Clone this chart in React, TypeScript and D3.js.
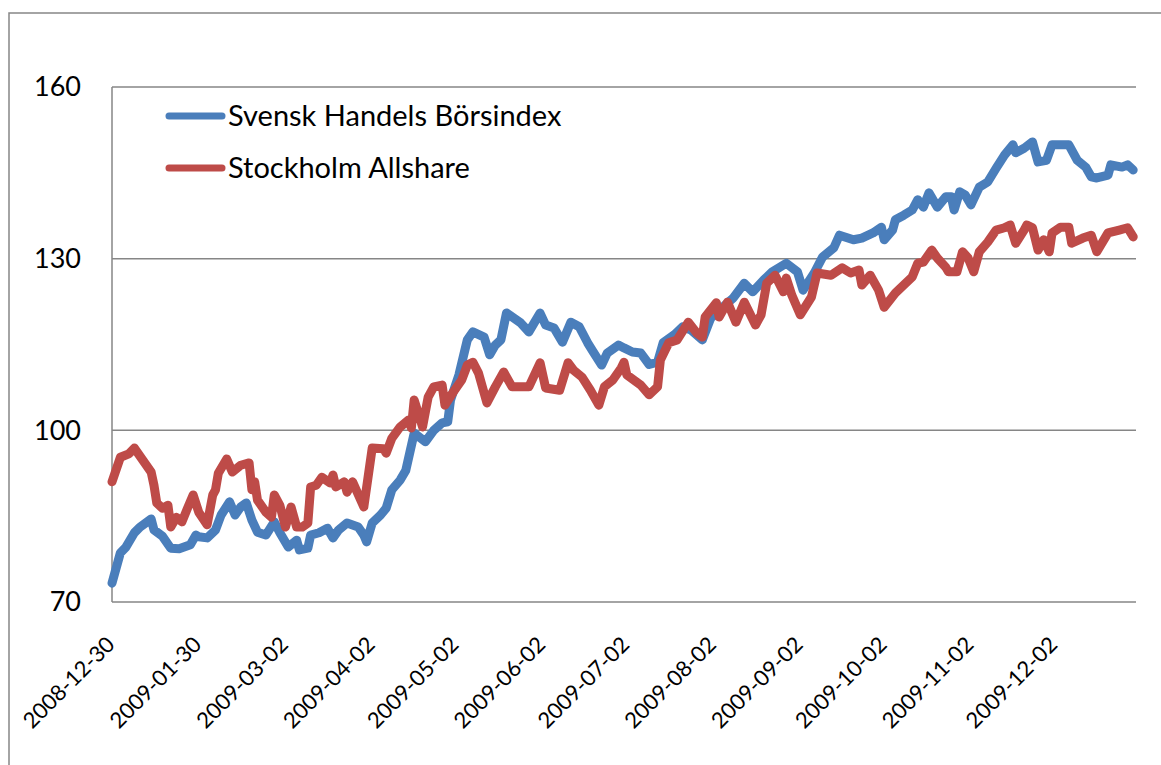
import * as d3 from "d3";

// axis values
const yTicks = [70, 100, 130, 160];
const xTickLabels = [
  "2008-12-30", "2009-01-30", "2009-03-02", "2009-04-02", "2009-05-02", "2009-06-02",
  "2009-07-02", "2009-08-02", "2009-09-02", "2009-10-02", "2009-11-02", "2009-12-02",
];
const xDomain = ["2008-12-30", "2009-12-31"];

const seriesNames = ["Svensk Handels Börsindex", "Stockholm Allshare"];
const seriesColors = ["#4A7EBB", "#BE4B48"];

// Svensk Handels Börsindex
const handelsIndex: [string, number][] = [
  ["2008-12-30", 73.3], ["2009-01-02", 78.6], ["2009-01-04", 79.6], ["2009-01-07", 82.1],
  ["2009-01-09", 83.1], ["2009-01-13", 84.5], ["2009-01-14", 82.6], ["2009-01-17", 81.5],
  ["2009-01-20", 79.4], ["2009-01-23", 79.3], ["2009-01-27", 80.0], ["2009-01-29", 81.7],
  ["2009-01-30", 81.4], ["2009-02-02", 81.2], ["2009-02-05", 82.6], ["2009-02-07", 85.2],
  ["2009-02-10", 87.5], ["2009-02-12", 85.2], ["2009-02-14", 86.6], ["2009-02-16", 87.3],
  ["2009-02-18", 84.3], ["2009-02-20", 82.2], ["2009-02-23", 81.7], ["2009-02-26", 84.0],
  ["2009-02-28", 82.1], ["2009-03-03", 79.6], ["2009-03-06", 80.8], ["2009-03-07", 79.1],
  ["2009-03-10", 79.4], ["2009-03-11", 81.7], ["2009-03-14", 82.1], ["2009-03-17", 82.9],
  ["2009-03-19", 81.2], ["2009-03-21", 82.6], ["2009-03-24", 83.8], ["2009-03-28", 83.1],
  ["2009-03-30", 81.7], ["2009-03-31", 80.5], ["2009-04-02", 83.8], ["2009-04-05", 85.2],
  ["2009-04-07", 86.4], ["2009-04-09", 89.6], ["2009-04-12", 91.3], ["2009-04-14", 93.0],
  ["2009-04-17", 99.5], ["2009-04-21", 98.0], ["2009-04-24", 100.0], ["2009-04-27", 101.3],
  ["2009-04-29", 101.5], ["2009-04-30", 105.3], ["2009-05-03", 109.7], ["2009-05-06", 115.8],
  ["2009-05-08", 117.2], ["2009-05-12", 116.3], ["2009-05-14", 113.2], ["2009-05-16", 114.9],
  ["2009-05-18", 115.8], ["2009-05-20", 120.5], ["2009-05-25", 118.8], ["2009-05-28", 117.2],
  ["2009-06-01", 120.5], ["2009-06-03", 118.4], ["2009-06-06", 117.9], ["2009-06-09", 115.4],
  ["2009-06-12", 118.9], ["2009-06-15", 118.1], ["2009-06-18", 115.3], ["2009-06-20", 113.7],
  ["2009-06-23", 111.4], ["2009-06-25", 113.5], ["2009-06-29", 114.9], ["2009-07-01", 114.4],
  ["2009-07-04", 113.7], ["2009-07-07", 113.5], ["2009-07-10", 111.5], ["2009-07-13", 111.9],
  ["2009-07-15", 115.3], ["2009-07-19", 116.7], ["2009-07-22", 118.1], ["2009-07-25", 117.5],
  ["2009-07-29", 115.8], ["2009-08-01", 119.6], ["2009-08-05", 121.4], ["2009-08-09", 123.1],
  ["2009-08-13", 125.7], ["2009-08-16", 124.2], ["2009-08-20", 126.3], ["2009-08-23", 127.7],
  ["2009-08-28", 129.2], ["2009-09-01", 127.7], ["2009-09-03", 124.5], ["2009-09-07", 127.5],
  ["2009-09-10", 130.3], ["2009-09-14", 131.9], ["2009-09-16", 134.1], ["2009-09-21", 133.3],
  ["2009-09-24", 133.6], ["2009-09-28", 134.5], ["2009-10-01", 135.5], ["2009-10-02", 133.3],
  ["2009-10-05", 135.0], ["2009-10-06", 136.8], ["2009-10-09", 137.6], ["2009-10-12", 138.5],
  ["2009-10-14", 140.3], ["2009-10-16", 139.0], ["2009-10-18", 141.5], ["2009-10-21", 139.0],
  ["2009-10-24", 140.8], ["2009-10-26", 140.8], ["2009-10-27", 138.5], ["2009-10-29", 141.7],
  ["2009-10-31", 141.1], ["2009-11-02", 139.4], ["2009-11-05", 142.5], ["2009-11-08", 143.4],
  ["2009-11-11", 145.8], ["2009-11-14", 148.1], ["2009-11-17", 149.9], ["2009-11-18", 148.5],
  ["2009-11-21", 149.3], ["2009-11-24", 150.4], ["2009-11-26", 146.9], ["2009-11-29", 147.2],
  ["2009-12-01", 149.9], ["2009-12-05", 149.9], ["2009-12-07", 149.9], ["2009-12-10", 147.2],
  ["2009-12-13", 146.0], ["2009-12-15", 144.3], ["2009-12-17", 144.1], ["2009-12-21", 144.6],
  ["2009-12-22", 146.4], ["2009-12-26", 146.0], ["2009-12-28", 146.4], ["2009-12-30", 145.5],
];

// Stockholm Allshare
const allshare: [string, number][] = [
  ["2008-12-30", 91.0], ["2009-01-02", 95.3], ["2009-01-05", 95.9], ["2009-01-07", 96.9],
  ["2009-01-10", 94.8], ["2009-01-13", 92.7], ["2009-01-14", 90.4], ["2009-01-15", 87.3],
  ["2009-01-17", 86.4], ["2009-01-19", 86.9], ["2009-01-20", 83.1], ["2009-01-22", 84.8],
  ["2009-01-24", 84.0], ["2009-01-26", 86.4], ["2009-01-28", 88.7], ["2009-01-30", 85.7],
  ["2009-02-02", 83.5], ["2009-02-04", 88.7], ["2009-02-05", 89.6], ["2009-02-06", 92.5],
  ["2009-02-09", 95.0], ["2009-02-11", 92.7], ["2009-02-14", 93.9], ["2009-02-17", 94.3],
  ["2009-02-18", 89.6], ["2009-02-19", 91.0], ["2009-02-20", 87.8], ["2009-02-23", 85.7],
  ["2009-02-25", 84.8], ["2009-02-26", 88.7], ["2009-02-28", 86.9], ["2009-03-02", 83.1],
  ["2009-03-04", 86.6], ["2009-03-06", 83.1], ["2009-03-08", 83.1], ["2009-03-10", 83.8],
  ["2009-03-11", 90.1], ["2009-03-13", 90.4], ["2009-03-15", 91.8], ["2009-03-18", 90.8],
  ["2009-03-19", 92.2], ["2009-03-20", 90.1], ["2009-03-23", 91.0], ["2009-03-24", 89.2],
  ["2009-03-26", 91.0], ["2009-03-30", 86.6], ["2009-04-02", 96.9], ["2009-04-06", 96.8],
  ["2009-04-07", 96.0], ["2009-04-09", 98.6], ["2009-04-12", 100.6], ["2009-04-15", 101.8],
  ["2009-04-16", 100.4], ["2009-04-17", 105.3], ["2009-04-19", 102.2], ["2009-04-20", 100.6],
  ["2009-04-22", 105.8], ["2009-04-24", 107.6], ["2009-04-27", 107.9], ["2009-04-28", 104.4],
  ["2009-05-01", 106.7], ["2009-05-04", 108.8], ["2009-05-06", 111.4], ["2009-05-08", 111.9],
  ["2009-05-10", 110.0], ["2009-05-13", 104.8], ["2009-05-16", 107.6], ["2009-05-19", 110.2],
  ["2009-05-22", 107.6], ["2009-05-26", 107.6], ["2009-05-28", 107.6], ["2009-06-01", 111.8],
  ["2009-06-03", 107.4], ["2009-06-08", 107.0], ["2009-06-11", 111.8], ["2009-06-13", 110.5],
  ["2009-06-16", 109.3], ["2009-06-19", 107.0], ["2009-06-22", 104.4], ["2009-06-24", 107.6],
  ["2009-06-27", 108.8], ["2009-06-30", 110.9], ["2009-07-01", 111.9], ["2009-07-02", 109.7],
  ["2009-07-07", 107.9], ["2009-07-10", 106.2], ["2009-07-13", 107.6], ["2009-07-14", 112.3],
  ["2009-07-17", 115.3], ["2009-07-20", 115.8], ["2009-07-24", 118.9], ["2009-07-27", 117.0],
  ["2009-07-29", 116.3], ["2009-07-30", 119.8], ["2009-08-03", 122.3], ["2009-08-04", 119.8],
  ["2009-08-07", 122.4], ["2009-08-10", 118.9], ["2009-08-13", 122.4], ["2009-08-17", 118.4],
  ["2009-08-19", 120.2], ["2009-08-21", 125.7], ["2009-08-24", 127.1], ["2009-08-27", 124.2],
  ["2009-08-28", 126.6], ["2009-08-30", 123.6], ["2009-09-02", 120.2], ["2009-09-06", 123.3],
  ["2009-09-08", 127.5], ["2009-09-13", 127.1], ["2009-09-17", 128.4], ["2009-09-20", 127.5],
  ["2009-09-23", 128.0], ["2009-09-24", 125.4], ["2009-09-27", 127.1], ["2009-09-30", 124.5],
  ["2009-10-02", 121.5], ["2009-10-06", 124.0], ["2009-10-09", 125.4], ["2009-10-12", 126.8],
  ["2009-10-14", 129.2], ["2009-10-16", 129.4], ["2009-10-19", 131.5], ["2009-10-21", 130.1],
  ["2009-10-24", 128.5], ["2009-10-25", 127.7], ["2009-10-28", 127.7], ["2009-10-30", 131.2],
  ["2009-11-01", 130.1], ["2009-11-03", 127.7], ["2009-11-05", 131.2], ["2009-11-08", 132.9],
  ["2009-11-11", 135.0], ["2009-11-14", 135.4], ["2009-11-16", 135.9], ["2009-11-18", 132.7],
  ["2009-11-21", 135.0], ["2009-11-22", 135.9], ["2009-11-24", 135.4], ["2009-11-26", 131.5],
  ["2009-11-28", 133.3], ["2009-11-30", 131.2], ["2009-12-01", 134.5], ["2009-12-04", 135.5],
  ["2009-12-07", 135.5], ["2009-12-08", 132.7], ["2009-12-12", 133.6], ["2009-12-15", 134.1],
  ["2009-12-17", 131.2], ["2009-12-21", 134.5], ["2009-12-25", 135.0], ["2009-12-28", 135.4],
  ["2009-12-30", 133.8],
];

const W = 1161;
const H = 765;
const FONT = "Lato, 'Open Sans', sans-serif";
const parse = d3.utcParse("%Y-%m-%d");

export default function App() {
  const plot = { left: 112, right: 1136, top: 87, bottom: 602 };

  const x = d3
    .scaleUtc()
    .domain(xDomain.map((d) => parse(d) as Date))
    .range([plot.left, plot.right]);
  const y = d3.scaleLinear().domain([70, 160]).range([plot.bottom, plot.top]);

  const line = d3
    .line<[string, number]>()
    .x((d) => x(parse(d[0]) as Date))
    .y((d) => y(d[1]));

  const series = [handelsIndex, allshare];

  return (
    <svg
      width={W}
      height={H}
      style={{ position: "absolute", left: 0, top: 0, display: "block", background: "#fff" }}
      fontFamily={FONT}
    >
      {/* chart border, runs off the page on the right and bottom */}
      <rect x={9} y={13} width={W + 20} height={H + 20} fill="#fff" stroke="#868686" strokeWidth={1.5} />

      {/* gridlines */}
      {yTicks.map((t) => (
        <line key={t} x1={plot.left} x2={plot.right} y1={y(t)} y2={y(t)} stroke="#868686" strokeWidth={1.5} />
      ))}
      <line x1={plot.left} x2={plot.left} y1={plot.top} y2={plot.bottom} stroke="#868686" strokeWidth={1.5} />

      {/* y tick labels */}
      {yTicks.map((t) => (
        <text key={t} x={81} y={y(t)} dy="0.35em" textAnchor="end" fontSize={27} fill="#000">
          {t}
        </text>
      ))}

      {/* x tick labels */}
      {xTickLabels.map((d) => {
        const tx = x(parse(d) as Date);
        return (
          <text
            key={d}
            transform={`translate(${tx + 4},${plot.bottom + 44}) rotate(-45)`}
            textAnchor="end"
            fontSize={22}
            fill="#000"
          >
            {d}
          </text>
        );
      })}

      {/* series */}
      {series.map((s, i) => (
        <path
          key={seriesNames[i]}
          d={line(s) ?? ""}
          fill="none"
          stroke={seriesColors[i]}
          strokeWidth={9}
          strokeLinejoin="round"
          strokeLinecap="round"
        />
      ))}

      {/* legend */}
      {seriesNames.map((name, i) => {
        const ly = 116 + i * 52;
        return (
          <g key={name}>
            <line x1={169} x2={222} y1={ly} y2={ly} stroke={seriesColors[i]} strokeWidth={7} strokeLinecap="round" />
            <text x={228} y={ly} dy="0.35em" fontSize={29} fill="#000">
              {name}
            </text>
          </g>
        );
      })}
    </svg>
  );
}
